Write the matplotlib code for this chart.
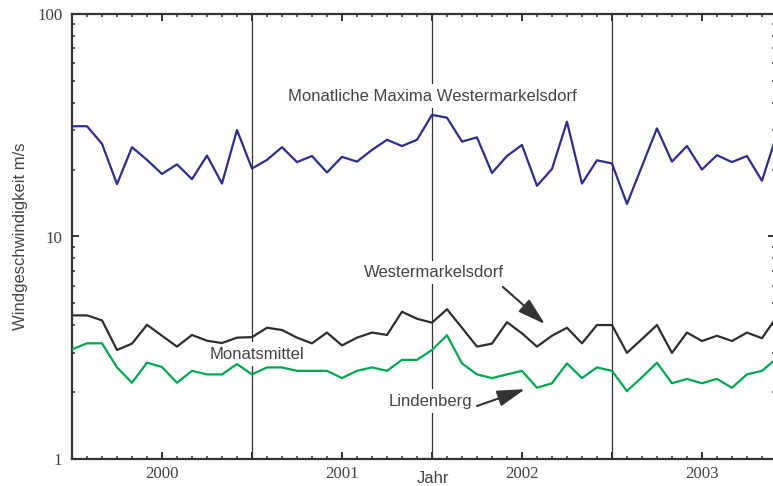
import matplotlib.pyplot as plt
from matplotlib.ticker import FixedLocator, NullFormatter, FixedFormatter

# monthly values, Jan 2000 .. Dec 2003 (month index 0..47)
months = list(range(48))

maxima_wmd = [31.3, 31.3, 26.1, 17.2, 25.2, 22.1, 19.1, 21.1, 18.1, 23.1, 17.3, 30.1,
              20.2, 22.1, 25.2, 21.6, 23.0, 19.4, 22.8, 21.7, 24.5, 27.2, 25.5, 27.2,
              35.2, 34.2, 26.7, 27.9, 19.3, 23.0, 25.8, 16.9, 20.1, 32.8, 17.3, 22.0,
              21.3, 14.0, 20.7, 30.6, 21.7, 25.5, 20.0, 23.2, 21.6, 23.0, 17.8, 28.9]

mittel_wmd = [4.42, 4.42, 4.20, 3.09, 3.30, 4.01, 3.58, 3.20, 3.61, 3.40, 3.32, 3.51,
              3.53, 3.89, 3.80, 3.51, 3.31, 3.70, 3.24, 3.51, 3.70, 3.61, 4.59, 4.27,
              4.10, 4.71, 3.89, 3.20, 3.30, 4.12, 3.67, 3.20, 3.58, 3.89, 3.31, 4.00,
              4.00, 3.00, 3.46, 4.00, 3.00, 3.70, 3.39, 3.58, 3.39, 3.70, 3.49, 4.37]

mittel_lin = [3.11, 3.31, 3.31, 2.58, 2.20, 2.71, 2.59, 2.20, 2.49, 2.40, 2.40, 2.67,
              2.40, 2.58, 2.58, 2.49, 2.49, 2.49, 2.31, 2.49, 2.58, 2.49, 2.79, 2.79,
              3.09, 3.60, 2.69, 2.40, 2.31, 2.40, 2.49, 2.09, 2.19, 2.69, 2.31, 2.58,
              2.49, 2.02, 2.33, 2.71, 2.19, 2.29, 2.19, 2.29, 2.09, 2.40, 2.49, 2.84]

year_labels = ['', '2000', '', '2001', '', '2002', '', '2003']
year_bounds = [12, 24, 36]

SANS = 'Liberation Sans'
SERIF = 'Liberation Serif'
TXT = '#444444'
AX = '#333333'

fig = plt.figure(figsize=(7.73, 4.86), dpi=100)
ax = fig.add_axes([72 / 773, 27 / 486, 703 / 773, 445 / 486])

for xb in year_bounds:
    ax.axvline(xb, color=AX, lw=0.9, zorder=1)

ax.plot(months, maxima_wmd, color='#2b2e8c', lw=1.6, zorder=3)
ax.plot(months, mittel_wmd, color='#2e2e2e', lw=1.6, zorder=3)
ax.plot(months, mittel_lin, color='#00a650', lw=1.6, zorder=3)

ax.set_yscale('log')
ax.set_ylim(1, 100)
ax.set_xlim(0, 46.87)

ax.xaxis.set_major_locator(FixedLocator(list(range(0, 48, 6))))
ax.xaxis.set_major_formatter(FixedFormatter(year_labels))
ax.xaxis.set_minor_locator(FixedLocator(months))
ax.yaxis.set_major_locator(FixedLocator([1, 10, 100]))
ax.yaxis.set_major_formatter(FixedFormatter(['1', '10', '100']))
ax.yaxis.set_minor_formatter(NullFormatter())

ax.tick_params(which='both', direction='in', top=True, right=True, colors=AX)
ax.tick_params(which='major', length=5, width=1.4)
ax.tick_params(which='minor', length=2.5, width=1.1)
ax.tick_params(axis='x', which='major', pad=5)
ax.tick_params(axis='y', which='major', pad=7)
for lab in ax.get_xticklabels() + ax.get_yticklabels():
    lab.set_fontfamily(SERIF)
    lab.set_fontsize(12.2)
    lab.set_color(TXT)

for s in ax.spines.values():
    s.set_color(AX)
    s.set_linewidth(1.6)

ax.set_ylabel('Windgeschwindigkeit m/s', family=SANS, fontsize=12, color=TXT)
ax.yaxis.set_label_coords(-0.062, 0.5)
ax.set_xlabel('Jahr', family=SANS, fontsize=12, color=TXT)
ax.xaxis.set_label_coords(0.5135, -0.028)

box = dict(boxstyle='square,pad=0.25', fc='white', ec='none')
ax.text(24, 42.8, 'Monatliche Maxima Westermarkelsdorf', ha='center', va='center',
        family=SANS, fontsize=12, color=TXT, bbox=box, zorder=2)
ax.text(12.33, 2.96, 'Monatsmittel', ha='center', va='center',
        family=SANS, fontsize=12, color=TXT, bbox=box, zorder=2)

arrow = dict(arrowstyle='-|>,head_length=1.7,head_width=0.5', color='#333333', lw=1.5,
             shrinkA=0, shrinkB=0)
ax.text(24.1, 6.9, 'Westermarkelsdorf', ha='center', va='center',
        family=SANS, fontsize=12, color=TXT, bbox=box, zorder=2)
ax.annotate('', xy=(31.53, 4.04), xytext=(28.73, 5.93), arrowprops=arrow, zorder=4)
ax.text(23.9, 1.82, 'Lindenberg', ha='center', va='center',
        family=SANS, fontsize=12, color=TXT, bbox=box, zorder=2)
ax.annotate('', xy=(30.2, 2.06), xytext=(27.0, 1.73), arrowprops=arrow, zorder=4)

fig.savefig('out.png', dpi=100)
